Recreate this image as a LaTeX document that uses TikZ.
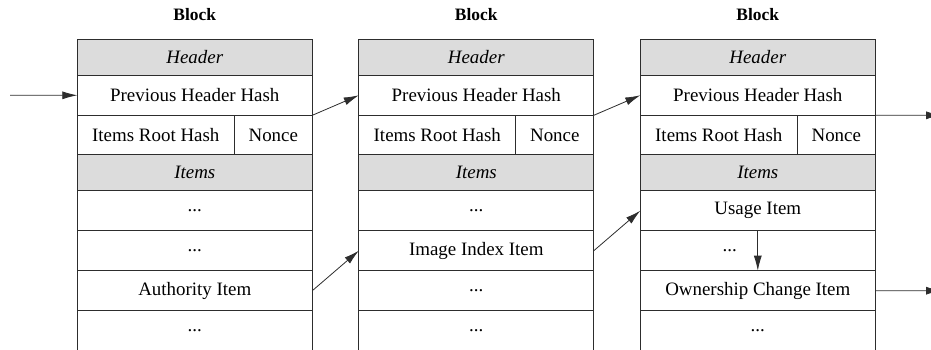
\documentclass[tikz,border=0pt]{standalone}
\usepackage{fontspec}
\setmainfont{Liberation Serif}
\usetikzlibrary{arrows.meta,positioning}
\definecolor{cellgray}{RGB}{220,220,220}
\definecolor{ink}{RGB}{45,45,45}
\newcommand{\elide}{...}
\tikzset{
  >={Latex[length=15bp,width=8bp]},
  cell/.style={draw=ink,line width=1bp,fill=#1,outer sep=0pt,inner sep=0pt,
    minimum width=235bp,minimum height=40bp,font=\fontsize{19}{21}\selectfont},
  cell/.default=white,
  headcell/.style={cell=cellgray,minimum height=36bp,font=\fontsize{19}{21}\selectfont\itshape},
  link/.style={->,line width=0.8bp,draw=ink},
  blocktitle/.style={font=\fontsize{17.5}{20}\selectfont\bfseries},
}
\begin{document}
\begin{tikzpicture}[x=1bp,y=-1bp]
  \useasboundingbox (0,0) rectangle (931,349);
  \clip (0,0) rectangle (931,349);
  % three blocks of the chain
  \foreach \i/\x/\ta/\tb/\tc in {1/194.8/\elide/\elide/Authority Item,
      2/476.3/\elide/Image Index Item/\elide,
      3/757.8/Usage Item/{\elide\kern56bp}/Ownership Change Item}{
    \node[blocktitle] (b\i-title) at (\x,15) {Block};
    \node[headcell,anchor=north] (b\i-head) at (\x,39.3) {Header};
    \node[cell,below=0pt of b\i-head] (b\i-prev) {Previous Header Hash};
    \node[cell,anchor=north west,minimum width=157bp,minimum height=39.4bp] (b\i-root)
      at (b\i-prev.south west) {Items Root Hash};
    \node[cell,right=0pt of b\i-root,minimum width=78bp,minimum height=39.4bp] (b\i-nonce) {Nonce};
    \node[headcell,anchor=north west] (b\i-items) at (b\i-root.south west) {Items};
    \node[cell,below=0pt of b\i-items] (b\i-r1) {\ta};
    \node[cell,below=0pt of b\i-r1] (b\i-r2) {\tb};
    \node[cell,below=0pt of b\i-r2] (b\i-r3) {\tc};
    \node[cell,below=0pt of b\i-r3] (b\i-r4) {\elide};
  }
  % links
  \coordinate (in) at (10,95.3);
  \coordinate (out1) at (941,115.3);
  \coordinate (out2) at (941,290.7);
  \draw[link] (in) -- (b1-prev.west);
  \draw[link] (b1-prev.south east) -- (b2-prev.west);
  \draw[link] (b2-prev.south east) -- (b3-prev.west);
  \draw[link] (b3-prev.south east) -- (out1);
  \draw[link] (b1-r3.east) -- (b2-r2.west);
  \draw[link] (b2-r2.east) -- (b3-r1.west);
  \draw[link] (b3-r1.south) -- (b3-r3.north);
  \draw[link] (b3-r3.east) -- (out2);
\end{tikzpicture}
\end{document}
